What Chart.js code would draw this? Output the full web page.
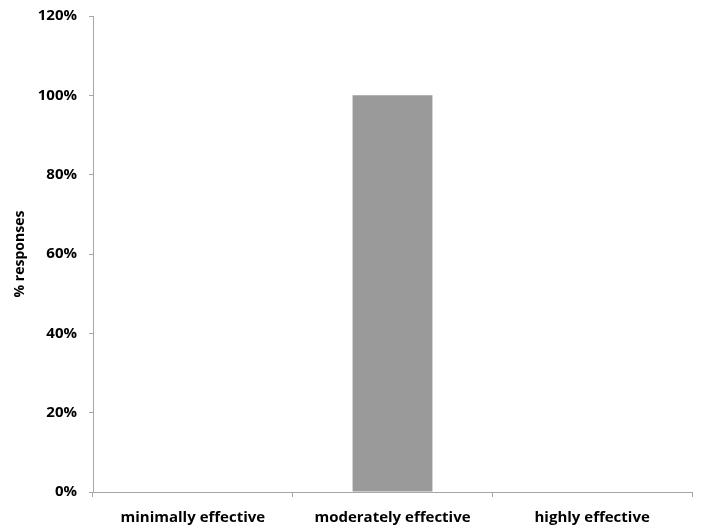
<!DOCTYPE html>
<html>
<head>
<meta charset="utf-8">
<style>
  html, body { margin: 0; padding: 0; background: #fff; }
  #wrap { width: 702px; height: 529px; }
</style>
<script src="https://cdn.jsdelivr.net/npm/chart.js@4"></script>
</head>
<body>
<div id="wrap"><canvas id="chart" width="702" height="529"></canvas></div>
<script>
const categories = ["minimally effective", "moderately effective", "highly effective"];
const responses = [0, 100, 0];
const yTicks = [0, 20, 40, 60, 80, 100, 120];

const axisColor = "#a6a6a6";
const fontSpec = { family: "'Open Sans', sans-serif", size: 15, weight: "bold" };

new Chart(document.getElementById("chart"), {
  type: "bar",
  data: {
    labels: categories,
    datasets: [{
      data: responses,
      backgroundColor: "#9a9a9a",
      categoryPercentage: 0.4,
      barPercentage: 1
    }]
  },
  options: {
    responsive: false,
    animation: false,
    layout: { padding: { top: 16, right: 10, left: 12, bottom: 0 } },
    plugins: { legend: { display: false }, tooltip: { enabled: false } },
    scales: {
      x: {
        grid: { offset: true, drawOnChartArea: false, tickLength: 5, color: axisColor },
        border: { color: axisColor },
        ticks: { color: "#000", font: fontSpec, padding: 12, maxRotation: 0 },
        afterFit: (s) => { s.height = 37; s.paddingLeft = 0; s.paddingRight = 0; }
      },
      y: {
        min: 0,
        max: 120,
        afterBuildTicks: (s) => { s.ticks = yTicks.map(v => ({ value: v })); },
        grid: { drawOnChartArea: false, tickLength: 4, color: axisColor },
        border: { color: axisColor },
        ticks: { color: "#000", font: fontSpec, padding: 12, callback: (v) => v + "%" },
        title: { display: true, text: "% responses", color: "#000", font: { ...fontSpec, size: 14 }, padding: 0 },
        afterFit: (s) => { s.width = 81; s.paddingTop = 0; s.paddingBottom = 0; }
      }
    }
  }
});
</script>
</body>
</html>
